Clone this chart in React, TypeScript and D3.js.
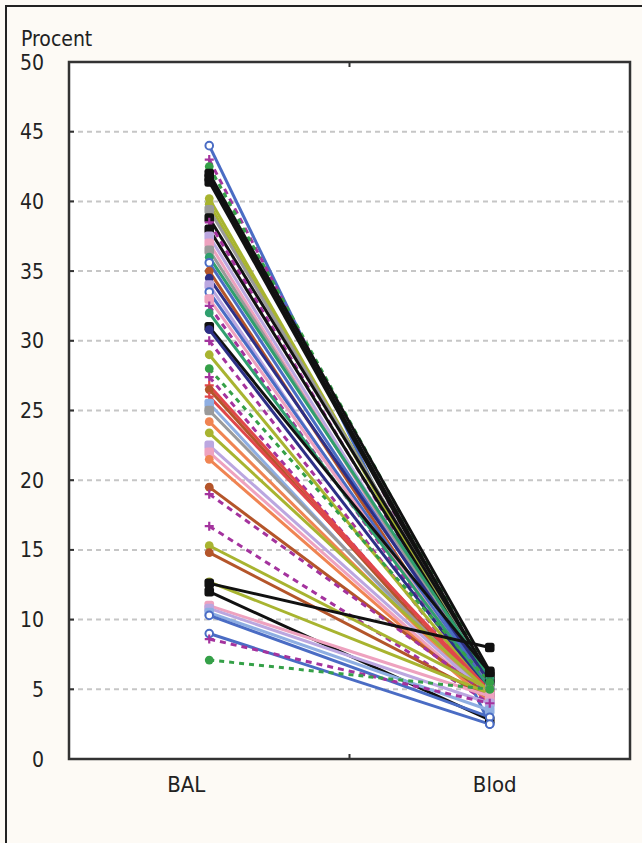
import * as d3 from "d3";
import React from "react";

// BAL vs blood percentages per patient
const categories = ["BAL", "Blod"];
const yTicks = [0, 5, 10, 15, 20, 25, 30, 35, 40, 45, 50];

const balValues = [
  44.0, 43.0, 42.5, 42.0, 41.7, 41.4, 40.2, 39.8, 39.4, 38.8, 38.5, 38.0, 37.5,
  37.0, 36.5, 36.0, 35.6, 35.0, 34.5, 34.0, 33.5, 33.0, 32.5, 32.0, 31.0, 30.8,
  30.0, 29.0, 28.0, 27.4, 26.8, 26.5, 26.0, 25.5, 25.0, 24.2, 23.4, 22.5, 22.0,
  21.5, 19.5, 19.0, 16.7, 15.3, 14.8, 12.7, 12.6, 12.0, 11.0, 10.8, 10.5, 10.3,
  9.0, 8.6, 7.1,
];
const blodValues = [
  2.5, 4.5, 6.0, 6.3, 5.8, 5.5, 5.2, 5.0, 5.8, 6.0, 5.0, 5.5, 4.8, 4.6, 5.2,
  5.8, 5.0, 4.5, 5.5, 4.2, 5.0, 4.8, 4.4, 5.0, 6.2, 4.8, 4.3, 4.7, 5.5, 4.0,
  4.5, 4.2, 4.9, 4.0, 4.5, 4.3, 4.8, 4.5, 4.2, 4.0, 4.5, 4.6, 4.0, 5.0, 4.4,
  4.7, 8.0, 2.8, 4.5, 4.0, 3.5, 3.0, 2.5, 4.0, 5.0,
];
const seriesGroup = [
  "blue", "purple", "green", "black", "black", "black", "olive", "olive", "grey",
  "black", "purple", "black", "lilac", "pink", "grey", "teal", "blue", "brown",
  "navy", "lilac", "blue", "pink", "purple", "teal", "black", "navy", "purple",
  "olive", "green", "purple", "red", "brown", "red", "lightblue", "grey",
  "orange", "olive", "lilac", "pink", "orange", "brown", "purple", "purple",
  "olive", "brown", "olive", "black", "black", "pink", "lilac", "lightblue",
  "blue", "blue", "purple", "green",
];

const groupStyle: Record<string, { color: string; dash: string | null; marker: string }> = {
  blue: { color: "#4a6cc4", dash: null, marker: "circleOpen" },
  green: { color: "#35a048", dash: "5,5", marker: "circle" },
  black: { color: "#111111", dash: null, marker: "square" },
  olive: { color: "#a8b430", dash: null, marker: "circle" },
  purple: { color: "#a4339e", dash: "6,5", marker: "plus" },
  brown: { color: "#b4552a", dash: null, marker: "circle" },
  pink: { color: "#eea2bf", dash: null, marker: "square" },
  grey: { color: "#9a9a9a", dash: null, marker: "square" },
  lilac: { color: "#bba7e0", dash: null, marker: "square" },
  navy: { color: "#2d2f86", dash: null, marker: "circle" },
  teal: { color: "#2f9f6e", dash: null, marker: "circle" },
  orange: { color: "#f08452", dash: null, marker: "circle" },
  red: { color: "#e0474a", dash: null, marker: "plus" },
  lightblue: { color: "#8eaee2", dash: null, marker: "square" },
};

const W = 642;
const H = 843;
const margin = { top: 62, right: 12, bottom: 84, left: 69 };
const font = "'Liberation Sans Narrow', 'DejaVu Sans Condensed', sans-serif";

function Marker({ x, y, kind, color }: { x: number; y: number; kind: string; color: string }) {
  if (kind === "circleOpen")
    return <circle cx={x} cy={y} r={3.8} fill="white" stroke={color} strokeWidth={2} />;
  if (kind === "circle") return <circle cx={x} cy={y} r={4.4} fill={color} />;
  if (kind === "square")
    return <rect x={x - 4.8} y={y - 4.8} width={9.6} height={9.6} rx={2.5} fill={color} />;
  return (
    <path
      d={`M${x - 4.5},${y}H${x + 4.5}M${x},${y - 4.5}V${y + 4.5}`}
      stroke={color}
      strokeWidth={2.2}
    />
  );
}

export default function App() {
  const x = d3
    .scalePoint<string>()
    .domain(categories)
    .range([margin.left, W - margin.right])
    .padding(0.5);
  const y = d3
    .scaleLinear()
    .domain([0, 50])
    .range([H - margin.bottom, margin.top]);

  const line = d3
    .line<{ cat: string; v: number }>()
    .x((d) => x(d.cat)!)
    .y((d) => y(d.v));

  const series = balValues.map((b, i) => ({
    points: [
      { cat: "BAL", v: b },
      { cat: "Blod", v: blodValues[i] },
    ],
    style: groupStyle[seriesGroup[i]],
  }));

  const x0 = margin.left;
  const x1 = W - margin.right;
  const midX = (x0 + x1) / 2;

  return (
    <div style={{ position: "absolute", left: 0, top: 0 }}>
      <svg width={W} height={H} style={{ display: "block" }}>
        <rect width={W} height={H} fill="#fdfaf5" />
        <path d={`M6,${H}V6H${W}`} fill="none" stroke="#222" strokeWidth={2} />
        <rect x={x0} y={y(50)} width={x1 - x0} height={y(0) - y(50)} fill="white" />

        {yTicks
          .filter((t) => t > 0 && t < 50)
          .map((t) => (
            <line
              key={`g${t}`}
              x1={x0}
              x2={x1}
              y1={y(t)}
              y2={y(t)}
              stroke="#c6c6c6"
              strokeWidth={2}
              strokeDasharray="5,4"
            />
          ))}

        {series.map((s, i) => (
          <path
            key={`l${i}`}
            d={line(s.points) ?? ""}
            fill="none"
            stroke={s.style.color}
            strokeWidth={3}
            strokeDasharray={s.style.dash ?? undefined}
          />
        ))}
        {series.map((s, i) =>
          s.points.map((p) => (
            <Marker
              key={`m${i}${p.cat}`}
              x={x(p.cat)!}
              y={y(p.v)}
              kind={s.style.marker}
              color={s.style.color}
            />
          ))
        )}

        <rect
          x={x0}
          y={y(50)}
          width={x1 - x0}
          height={y(0) - y(50)}
          fill="none"
          stroke="#333"
          strokeWidth={2.5}
        />
        {yTicks.map((t) => (
          <g key={`t${t}`}>
            <line x1={x0} x2={x0 + 5} y1={y(t)} y2={y(t)} stroke="#333" strokeWidth={2} />
            <text
              x={44}
              y={y(t) + 7.5}
              textAnchor="end"
              fontFamily={font}
              fontSize={21}
              fill="#222"
            >
              {t}
            </text>
          </g>
        ))}
        <line x1={midX} x2={midX} y1={y(50)} y2={y(50) + 5} stroke="#333" strokeWidth={2} />
        <line x1={midX} x2={midX} y1={y(0)} y2={y(0) - 5} stroke="#333" strokeWidth={2} />

        <text x={21} y={46} fontFamily={font} fontSize={21} fill="#222">
          Procent
        </text>
        {categories.map((c, i) => (
          <text
            key={c}
            x={x(c)! + (i === 0 ? -23 : 5)}
            y={792}
            textAnchor="middle"
            fontFamily={font}
            fontSize={22}
            fill="#222"
          >
            {c}
          </text>
        ))}
      </svg>
    </div>
  );
}
